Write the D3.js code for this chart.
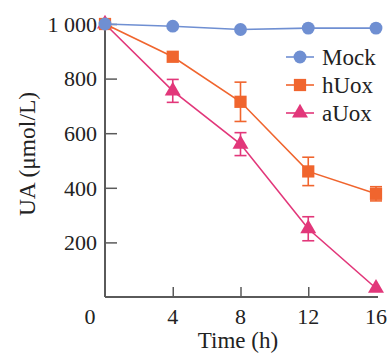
<!DOCTYPE html>
<html>
<head>
<meta charset="utf-8">
<script src="https://cdn.jsdelivr.net/npm/d3@7"></script>
<style>
  body { margin: 0; background: #fff; }
  text { font-family: "Liberation Serif", "DejaVu Serif", serif; fill: #222; }
</style>
</head>
<body>
<div id="chart"></div>
<script>
// data
const times = [0, 4, 8, 12, 16];
const mock = [1000, 992, 980, 985, 985];
const hUox = [1000, 880, 715, 460, 378];
const hUoxErr = [0, 0, 72, 52, 26];
const aUox = [1000, 755, 560, 250, 32];
const aUoxErr = [0, 42, 42, 44, 0];
const xTicks = [4, 8, 12, 16];
const yTicks = [200, 400, 600, 800, 1000];

const W = 391, H = 354;
const margin = { top: 24, right: 15, bottom: 57, left: 105 };

const svg = d3.select("#chart").append("svg")
    .attr("width", W)
    .attr("height", H);

const x = d3.scaleLinear().domain([0, 16]).range([margin.left, 376]);
const y = d3.scaleLinear().domain([0, 1000]).range([H - margin.bottom, margin.top]);

const axisColor = "#5a5a5a";

// y axis
const yAxis = svg.append("g")
    .attr("transform", `translate(${margin.left},0)`)
    .call(d3.axisRight(y).tickValues(yTicks).tickSize(12).tickFormat(""));
yAxis.select(".domain").remove();
yAxis.selectAll("line").attr("stroke", axisColor).attr("stroke-width", 1.5);
svg.append("line")
    .attr("x1", margin.left).attr("x2", margin.left)
    .attr("y1", y(0)).attr("y2", y(1000))
    .attr("stroke", axisColor).attr("stroke-width", 2);

svg.selectAll(".ylab").data(yTicks).join("text")
    .attr("class", "ylab")
    .attr("x", 97)
    .attr("y", d => y(d))
    .attr("dy", "0.35em")
    .attr("text-anchor", "end")
    .attr("font-size", 22)
    .text(d => d === 1000 ? "1 000" : d);

// x axis
const xAxis = svg.append("g")
    .attr("transform", `translate(0,${y(0)})`)
    .call(d3.axisTop(x).tickValues([4, 8, 12]).tickSize(10).tickFormat(""));
xAxis.select(".domain").remove();
xAxis.selectAll("line").attr("stroke", axisColor).attr("stroke-width", 1.5);
svg.append("line")
    .attr("x1", margin.left).attr("x2", x(16) + 2)
    .attr("y1", y(0)).attr("y2", y(0))
    .attr("stroke", axisColor).attr("stroke-width", 2);

svg.selectAll(".xlab").data(xTicks).join("text")
    .attr("class", "xlab")
    .attr("x", d => x(d))
    .attr("y", y(0) + 19)
    .attr("dy", "0.35em")
    .attr("text-anchor", "middle")
    .attr("font-size", 22)
    .text(d => d);
svg.append("text")
    .attr("x", 90)
    .attr("y", y(0) + 19)
    .attr("dy", "0.35em")
    .attr("text-anchor", "middle")
    .attr("font-size", 22)
    .text("0");

// axis titles
svg.append("text")
    .attr("x", 238)
    .attr("y", 340)
    .attr("dy", "0.35em")
    .attr("text-anchor", "middle")
    .attr("font-size", 23)
    .text("Time (h)");
svg.append("text")
    .attr("transform", "translate(27,154) rotate(-90)")
    .attr("dy", "0.35em")
    .attr("text-anchor", "middle")
    .attr("font-size", 23.5)
    .text("UA (μmol/L)");

const series = [
    { name: "Mock", values: mock, err: null, color: "#6f8fd2", shape: d3.symbolCircle, size: 130 },
    { name: "hUox", values: hUox, err: hUoxErr, color: "#f0652e", shape: d3.symbolSquare, size: 150 },
    { name: "aUox", values: aUox, err: aUoxErr, color: "#e2377a", shape: d3.symbolTriangle, size: 110 }
];

const line = d3.line().x((d, i) => x(times[i])).y(d => y(d));

// draw back to front: aUox, hUox, Mock
series.slice().reverse().forEach(s => {
    const g = svg.append("g");
    g.append("path")
        .attr("d", line(s.values))
        .attr("fill", "none")
        .attr("stroke", s.color)
        .attr("stroke-width", 1.6);
    if (s.err) {
        s.values.forEach((v, i) => {
            const e = s.err[i];
            if (!e) return;
            const cx = x(times[i]);
            g.append("line").attr("x1", cx).attr("x2", cx)
                .attr("y1", y(v - e)).attr("y2", y(v + e))
                .attr("stroke", s.color).attr("stroke-width", 1.6);
            [v - e, v + e].forEach(t => {
                g.append("line").attr("x1", cx - 6).attr("x2", cx + 6)
                    .attr("y1", y(t)).attr("y2", y(t))
                    .attr("stroke", s.color).attr("stroke-width", 1.6);
            });
        });
    }
    g.selectAll(".pt").data(s.values).join("path")
        .attr("transform", (d, i) => `translate(${x(times[i])},${y(d)})`)
        .attr("d", d3.symbol().type(s.shape).size(s.size))
        .attr("fill", s.color);
});

// legend
const legend = svg.append("g");
series.forEach((s, i) => {
    const ly = 57 + i * 28;
    legend.append("line")
        .attr("x1", 286).attr("x2", 314)
        .attr("y1", ly).attr("y2", ly)
        .attr("stroke", s.color).attr("stroke-width", 1.6);
    legend.append("path")
        .attr("transform", `translate(300,${ly})`)
        .attr("d", d3.symbol().type(s.shape).size(s.size))
        .attr("fill", s.color);
    legend.append("text")
        .attr("x", 322)
        .attr("y", ly)
        .attr("dy", "0.35em")
        .attr("font-size", 23)
        .text(s.name);
});
</script>
</body>
</html>
